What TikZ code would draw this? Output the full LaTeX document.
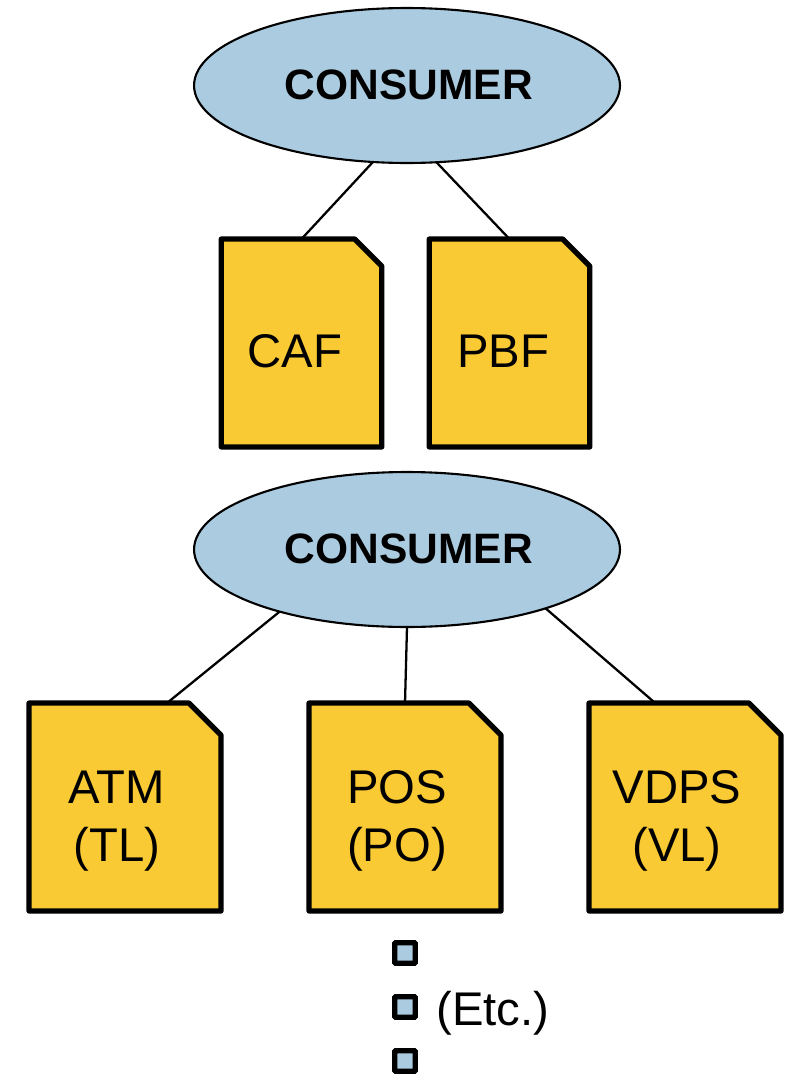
\documentclass[tikz,border=0pt]{standalone}
\usepackage{fontspec}
\setmainfont{Liberation Sans}
\usetikzlibrary{shapes.geometric}
\definecolor{partyblue}{HTML}{ABCBE1}
\definecolor{docyellow}{HTML}{F9CA33}
\tikzset{
    party/.style={draw,ellipse,fill=partyblue,line width=1.2pt,outer sep=0pt,inner sep=0pt,
        minimum width=8.52cm,minimum height=3.1cm},
    partytext/.style={inner sep=0pt,font=\fontsize{24.2}{28}\selectfont\bfseries},
    doc/.style={inner sep=0pt,outer sep=0pt},
    smalldoc/.style={doc,minimum width=3.21cm,minimum height=4.16cm},
    bigdoc/.style={doc,minimum width=3.84cm,minimum height=4.16cm},
    docline/.style={draw,fill=docyellow,line width=3pt,line join=round},
    doctext/.style={align=center,inner sep=0pt,font=\fontsize{26.9}{33}\selectfont},
    tick/.style={draw,fill=partyblue,line width=3pt,rounded corners=0.5pt,inner sep=0pt,minimum size=0.41cm}
}
\begin{document}
\begin{tikzpicture}[x=0.02cm,y=-0.02cm]
        \useasboundingbox (0,0) rectangle (785,1075);
        \node[party] (consumerA) at (407,85.5) {};
        \node[party] (consumerB) at (407,549.5) {};
        \node[partytext] (consumerAtext) at (409,85) {CONSUMER};
        \node[partytext] (consumerBtext) at (409,549) {CONSUMER};
        \node[smalldoc] (caf) at (301.5,343) {};
        \node[smalldoc] (pbf) at (509.5,343) {};
        \node[bigdoc] (atm) at (125,807) {};
        \node[bigdoc] (pos) at (405,807) {};
        \node[bigdoc] (vdps) at (685,807) {};
        \foreach \name/\cut in {caf/0.54cm,pbf/0.54cm,atm/0.64cm,pos/0.64cm,vdps/0.64cm}{
            \draw[docline] (\name.north west) -- ([xshift=-\cut]\name.north east)
                -- ([yshift=-\cut]\name.north east) -- (\name.south east) -- (\name.south west) -- cycle;
        }
        \node[doctext] (caftext) at (295,351) {CAF};
        \node[doctext] (pbftext) at (503,351) {PBF};
        \node[doctext] (atmtext) at (117,821) {ATM\\(TL)};
        \node[doctext] (postext) at (397,821) {POS\\(PO)};
        \node[doctext] (vdpstext) at (677,821) {VDPS\\(VL)};
        \draw[line width=1.3pt] (consumerA.246) -- (caf.north);
        \draw[line width=1.3pt] (consumerA.291) -- (pbf.north);
        \draw[line width=1.3pt] (consumerB.206) -- (atm.68);
        \draw[line width=1.3pt] (consumerB.south) -- (pos.north);
        \draw[line width=1.3pt] (consumerB.337) -- (vdps.106.6);
        \foreach \y/\name in {953/tickA,1007/tickB,1061/tickC}{
            \node[tick] (\name) at (405,\y) {};
        }
        \node[doctext,anchor=west] (etc) at (436,1013.5) {(Etc.)};
\end{tikzpicture}
\end{document}
